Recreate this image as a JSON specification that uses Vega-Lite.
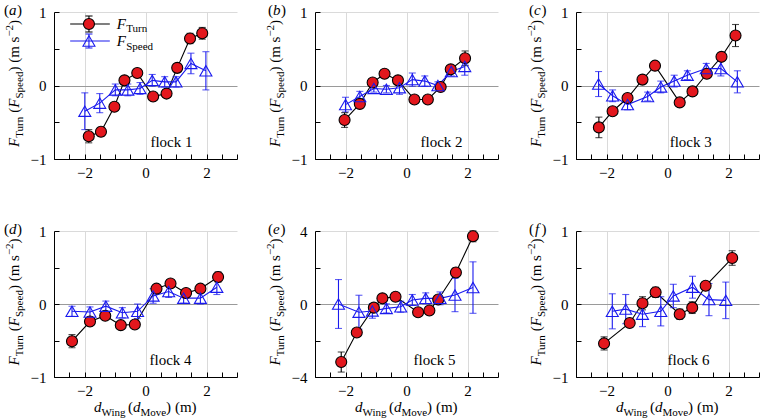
{
"$schema": "https://vega.github.io/schema/vega-lite/v6.json",
"padding": {"left": 3, "top": 3, "right": 0, "bottom": 0},
"background": "white",
"config": {
  "view": {"stroke": null},
  "legend": {"disable": true},
  "text": {"font": "Liberation Serif", "fontSize": 15, "align": "left", "baseline": "alphabetic", "color": "black"},
  "axis": {"domainColor": "black", "tickColor": "black", "labelColor": "black", "labelFont": "Liberation Serif", "labelFontSize": 15, "tickSize": -5, "grid": true, "labelFlush": false, "labelOverlap": false},
  "axisX": {"labelPadding": 11},
  "axisY": {"labelPadding": 13}
},
"datasets": {
  "one": [{}],
  "pts": [
    {"f":1,"s":"Turn","x":-1.86,"y":-0.69,"e":0.09},{"f":1,"s":"Turn","x":-1.46,"y":-0.63,"e":0.06},{"f":1,"s":"Turn","x":-1.02,"y":-0.29,"e":0.04},{"f":1,"s":"Turn","x":-0.69,"y":0.07,"e":0.04},{"f":1,"s":"Turn","x":-0.27,"y":0.17,"e":0.03},{"f":1,"s":"Turn","x":0.25,"y":-0.15,"e":0.03},{"f":1,"s":"Turn","x":0.69,"y":-0.11,"e":0.03},{"f":1,"s":"Turn","x":1.04,"y":0.24,"e":0.04},{"f":1,"s":"Turn","x":1.46,"y":0.64,"e":0.07},{"f":1,"s":"Turn","x":1.86,"y":0.71,"e":0.08},
    {"f":1,"s":"Speed","x":-1.99,"y":-0.35,"e":0.25},{"f":1,"s":"Speed","x":-1.5,"y":-0.24,"e":0.13},{"f":1,"s":"Speed","x":-0.99,"y":-0.06,"e":0.08},{"f":1,"s":"Speed","x":-0.58,"y":-0.06,"e":0.08},{"f":1,"s":"Speed","x":-0.18,"y":-0.04,"e":0.08},{"f":1,"s":"Speed","x":0.22,"y":0.07,"e":0.08},{"f":1,"s":"Speed","x":0.63,"y":0.05,"e":0.07},{"f":1,"s":"Speed","x":1.0,"y":0.05,"e":0.07},{"f":1,"s":"Speed","x":1.49,"y":0.3,"e":0.14},{"f":1,"s":"Speed","x":1.98,"y":0.2,"e":0.26},
    {"f":2,"s":"Turn","x":-2.03,"y":-0.47,"e":0.1},{"f":2,"s":"Turn","x":-1.53,"y":-0.25,"e":0.04},{"f":2,"s":"Turn","x":-1.11,"y":0.04,"e":0.03},{"f":2,"s":"Turn","x":-0.72,"y":0.16,"e":0.03},{"f":2,"s":"Turn","x":-0.28,"y":0.07,"e":0.03},{"f":2,"s":"Turn","x":0.26,"y":-0.19,"e":0.03},{"f":2,"s":"Turn","x":0.7,"y":-0.19,"e":0.03},{"f":2,"s":"Turn","x":1.12,"y":-0.02,"e":0.03},{"f":2,"s":"Turn","x":1.45,"y":0.22,"e":0.04},{"f":2,"s":"Turn","x":1.92,"y":0.37,"e":0.1},
    {"f":2,"s":"Speed","x":-2.0,"y":-0.26,"e":0.1},{"f":2,"s":"Speed","x":-1.53,"y":-0.15,"e":0.07},{"f":2,"s":"Speed","x":-1.07,"y":-0.04,"e":0.05},{"f":2,"s":"Speed","x":-0.66,"y":-0.05,"e":0.05},{"f":2,"s":"Speed","x":-0.23,"y":-0.03,"e":0.09},{"f":2,"s":"Speed","x":0.19,"y":0.08,"e":0.09},{"f":2,"s":"Speed","x":0.6,"y":0.06,"e":0.07},{"f":2,"s":"Speed","x":1.03,"y":0.0,"e":0.05},{"f":2,"s":"Speed","x":1.47,"y":0.19,"e":0.06},{"f":2,"s":"Speed","x":1.91,"y":0.26,"e":0.12},
    {"f":3,"s":"Turn","x":-2.25,"y":-0.57,"e":0.14},{"f":3,"s":"Turn","x":-1.8,"y":-0.35,"e":0.04},{"f":3,"s":"Turn","x":-1.31,"y":-0.17,"e":0.03},{"f":3,"s":"Turn","x":-0.82,"y":0.08,"e":0.03},{"f":3,"s":"Turn","x":-0.41,"y":0.27,"e":0.03},{"f":3,"s":"Turn","x":0.4,"y":-0.23,"e":0.03},{"f":3,"s":"Turn","x":0.82,"y":-0.08,"e":0.03},{"f":3,"s":"Turn","x":1.29,"y":0.16,"e":0.03},{"f":3,"s":"Turn","x":1.77,"y":0.39,"e":0.05},{"f":3,"s":"Turn","x":2.23,"y":0.68,"e":0.15},
    {"f":3,"s":"Speed","x":-2.26,"y":0.02,"e":0.17},{"f":3,"s":"Speed","x":-1.8,"y":-0.14,"e":0.08},{"f":3,"s":"Speed","x":-1.31,"y":-0.26,"e":0.07},{"f":3,"s":"Speed","x":-0.65,"y":-0.15,"e":0.06},{"f":3,"s":"Speed","x":-0.22,"y":-0.02,"e":0.08},{"f":3,"s":"Speed","x":0.22,"y":0.06,"e":0.08},{"f":3,"s":"Speed","x":0.65,"y":0.14,"e":0.06},{"f":3,"s":"Speed","x":1.27,"y":0.23,"e":0.07},{"f":3,"s":"Speed","x":1.75,"y":0.23,"e":0.1},{"f":3,"s":"Speed","x":2.29,"y":0.05,"e":0.15},
    {"f":4,"s":"Turn","x":-2.41,"y":-0.51,"e":0.09},{"f":4,"s":"Turn","x":-1.82,"y":-0.24,"e":0.05},{"f":4,"s":"Turn","x":-1.32,"y":-0.16,"e":0.03},{"f":4,"s":"Turn","x":-0.81,"y":-0.29,"e":0.03},{"f":4,"s":"Turn","x":-0.35,"y":-0.28,"e":0.03},{"f":4,"s":"Turn","x":0.36,"y":0.21,"e":0.03},{"f":4,"s":"Turn","x":0.82,"y":0.28,"e":0.03},{"f":4,"s":"Turn","x":1.33,"y":0.15,"e":0.03},{"f":4,"s":"Turn","x":1.8,"y":0.21,"e":0.04},{"f":4,"s":"Turn","x":2.38,"y":0.37,"e":0.07},
    {"f":4,"s":"Speed","x":-2.41,"y":-0.1,"e":0.07},{"f":4,"s":"Speed","x":-1.82,"y":-0.11,"e":0.07},{"f":4,"s":"Speed","x":-1.3,"y":-0.03,"e":0.07},{"f":4,"s":"Speed","x":-0.76,"y":-0.12,"e":0.07},{"f":4,"s":"Speed","x":-0.26,"y":-0.1,"e":0.1},{"f":4,"s":"Speed","x":0.25,"y":0.11,"e":0.1},{"f":4,"s":"Speed","x":0.76,"y":0.17,"e":0.08},{"f":4,"s":"Speed","x":1.25,"y":0.08,"e":0.07},{"f":4,"s":"Speed","x":1.8,"y":0.08,"e":0.08},{"f":4,"s":"Speed","x":2.34,"y":0.23,"e":0.1},
    {"f":5,"s":"Turn","x":-2.14,"y":-3.18,"e":0.55},{"f":5,"s":"Turn","x":-1.63,"y":-1.56,"e":0.2},{"f":5,"s":"Turn","x":-1.07,"y":-0.2,"e":0.1},{"f":5,"s":"Turn","x":-0.79,"y":0.31,"e":0.1},{"f":5,"s":"Turn","x":-0.36,"y":0.4,"e":0.1},{"f":5,"s":"Turn","x":0.38,"y":-0.45,"e":0.1},{"f":5,"s":"Turn","x":0.75,"y":-0.36,"e":0.1},{"f":5,"s":"Turn","x":1.04,"y":0.25,"e":0.1},{"f":5,"s":"Turn","x":1.62,"y":1.73,"e":0.25},{"f":5,"s":"Turn","x":2.18,"y":3.71,"e":0.3},
    {"f":5,"s":"Speed","x":-2.23,"y":0.0,"e":1.34},{"f":5,"s":"Speed","x":-1.56,"y":-0.45,"e":0.93},{"f":5,"s":"Speed","x":-1.12,"y":-0.38,"e":0.4},{"f":5,"s":"Speed","x":-0.66,"y":-0.24,"e":0.25},{"f":5,"s":"Speed","x":-0.19,"y":-0.15,"e":0.3},{"f":5,"s":"Speed","x":0.19,"y":0.22,"e":0.3},{"f":5,"s":"Speed","x":0.63,"y":0.31,"e":0.3},{"f":5,"s":"Speed","x":1.1,"y":0.31,"e":0.35},{"f":5,"s":"Speed","x":1.59,"y":0.49,"e":0.91},{"f":5,"s":"Speed","x":2.18,"y":0.9,"e":1.41},
    {"f":6,"s":"Turn","x":-2.08,"y":-0.54,"e":0.09},{"f":6,"s":"Turn","x":-1.24,"y":-0.26,"e":0.05},{"f":6,"s":"Turn","x":-0.82,"y":0.01,"e":0.09},{"f":6,"s":"Turn","x":-0.39,"y":0.16,"e":0.07},{"f":6,"s":"Turn","x":0.4,"y":-0.14,"e":0.07},{"f":6,"s":"Turn","x":0.81,"y":-0.05,"e":0.08},{"f":6,"s":"Turn","x":1.25,"y":0.25,"e":0.05},{"f":6,"s":"Turn","x":2.12,"y":0.63,"e":0.1},
    {"f":6,"s":"Speed","x":-1.81,"y":-0.1,"e":0.24},{"f":6,"s":"Speed","x":-1.37,"y":-0.07,"e":0.2},{"f":6,"s":"Speed","x":-0.82,"y":-0.14,"e":0.17},{"f":6,"s":"Speed","x":-0.22,"y":-0.1,"e":0.2},{"f":6,"s":"Speed","x":0.19,"y":0.11,"e":0.16},{"f":6,"s":"Speed","x":0.82,"y":0.23,"e":0.15},{"f":6,"s":"Speed","x":1.36,"y":0.06,"e":0.22},{"f":6,"s":"Speed","x":1.91,"y":0.05,"e":0.25}
  ]
},
"columns": 3,
"spacing": {"row": 72, "column": 78},
"bounds": "flush",
"concat": [
{"width": 183, "height": 147, "data": {"name": "one"}, "layer": [
  {"data": {"name": "pts"}, "transform": [{"filter": "datum.f == 1"}], "mark": {"type": "line", "strokeWidth": 1.1},
   "encoding": {"x": {"field": "x", "type": "quantitative", "scale": {"domain": [-3, 3], "nice": false}, "axis": {"title": null, "tickCount": 40, "labelOverlap": false, "values": [-3,-2.5,-2,-1.5,-1,-0.5,0,0.5,1,1.5,2,2.5,3], "labelExpr": "abs(datum.value) < 0.01 ? '0' : abs(datum.value - 2) < 0.01 ? '2' : abs(datum.value + 2) < 0.01 ? '−2' : ''", "gridColor": "#dadada", "gridOpacity": {"condition": {"test": "abs(datum.value) < 0.01 || abs(abs(datum.value) - 2) < 0.01", "value": 1}, "value": 0}}},
                "y": {"field": "y", "type": "quantitative", "scale": {"domain": [-1, 1], "nice": false}, "axis": {"title": null, "tickCount": 40, "labelOverlap": false, "values": [-1,-0.5,0,0.5,1], "labelExpr": "abs(datum.value) < 0.01 ? '0' : abs(datum.value - 1) < 0.01 ? '1' : abs(datum.value + 1) < 0.01 ? '−1' : ''", "gridColor": {"condition": {"test": "abs(datum.value) < 0.01", "value": "#9a9a9a"}, "value": "#dadada"}, "gridOpacity": {"condition": {"test": "abs(datum.value) < 0.01 || abs(datum.value - 1) < 0.01", "value": 1}, "value": 0}}},
                "color": {"field": "s", "type": "nominal", "scale": {"domain": ["Turn", "Speed"], "range": ["#000000", "#1a1aee"]}, "legend": null}}},
  {"data": {"name": "pts"}, "transform": [{"filter": "datum.f == 1"}], "mark": {"type": "errorbar", "ticks": {"size": 7}, "thickness": 1.1},
   "encoding": {"x": {"field": "x", "type": "quantitative"}, "y": {"field": "y", "type": "quantitative"}, "yError": {"field": "e"}, "color": {"field": "s", "type": "nominal", "legend": null}}},
  {"data": {"name": "pts"}, "transform": [{"filter": "datum.f == 1"}], "mark": {"type": "point", "opacity": 1, "strokeWidth": 1.1},
   "encoding": {"x": {"field": "x", "type": "quantitative"}, "y": {"field": "y", "type": "quantitative"},
                "shape": {"field": "s", "type": "nominal", "scale": {"domain": ["Turn", "Speed"], "range": ["circle", "triangle-up"]}, "legend": null},
                "fill": {"field": "s", "type": "nominal", "scale": {"domain": ["Turn", "Speed"], "range": ["#e3171d", "transparent"]}, "legend": null},
                "stroke": {"field": "s", "type": "nominal", "scale": {"domain": ["Turn", "Speed"], "range": ["#000000", "#1a1aee"]}, "legend": null},
                "size": {"field": "s", "type": "nominal", "scale": {"domain": ["Turn", "Speed"], "range": [121, 144]}, "legend": null}}},
  {"mark": {"type": "text", "text": "F", "fontStyle": "italic", "angle": 270, "dx": -61.5, "dy": -35}, "encoding": {"x": {"datum": -3}, "y": {"datum": 0}}},
  {"mark": {"type": "text", "text": "Turn", "fontSize": 11, "angle": 270, "dx": -52.3, "dy": -31.5}, "encoding": {"x": {"datum": -3}, "y": {"datum": 0}}},
  {"mark": {"type": "text", "text": "(", "angle": 270, "dx": -27.2, "dy": -35}, "encoding": {"x": {"datum": -3}, "y": {"datum": 0}}},
  {"mark": {"type": "text", "text": "F", "fontStyle": "italic", "angle": 270, "dx": -22.2, "dy": -35}, "encoding": {"x": {"datum": -3}, "y": {"datum": 0}}},
  {"mark": {"type": "text", "text": "Speed", "fontSize": 11, "angle": 270, "dx": -13.0, "dy": -31.5}, "encoding": {"x": {"datum": -3}, "y": {"datum": 0}}},
  {"mark": {"type": "text", "text": ") (m s", "angle": 270, "dx": 13.9, "dy": -35}, "encoding": {"x": {"datum": -3}, "y": {"datum": 0}}},
  {"mark": {"type": "text", "text": "−2", "fontSize": 11, "angle": 270, "dx": 48.9, "dy": -41}, "encoding": {"x": {"datum": -3}, "y": {"datum": 0}}},
  {"mark": {"type": "text", "text": ")", "angle": 270, "dx": 60.6, "dy": -35}, "encoding": {"x": {"datum": -3}, "y": {"datum": 0}}},
  {"mark": {"type": "text", "text": "(", "dx": -50, "dy": 3}, "encoding": {"x": {"datum": -3}, "y": {"datum": 1}}},
  {"mark": {"type": "text", "text": "a", "fontStyle": "italic", "dx": -45, "dy": 3}, "encoding": {"x": {"datum": -3}, "y": {"datum": 1}}},
  {"mark": {"type": "text", "text": ")", "dx": -37, "dy": 3}, "encoding": {"x": {"datum": -3}, "y": {"datum": 1}}},
  {"mark": {"type": "text", "text": "flock 1"}, "encoding": {"x": {"datum": 0.16}, "y": {"datum": -0.84}}},
  {"mark": {"type": "rule", "color": "black", "strokeWidth": 1.1}, "encoding": {"x": {"datum": -2.47}, "x2": {"datum": -1.17}, "y": {"datum": 0.837}}},
  {"mark": {"type": "rule", "color": "#1a1aee", "strokeWidth": 1.1}, "encoding": {"x": {"datum": -2.47}, "x2": {"datum": -1.17}, "y": {"datum": 0.605}}},
  {"mark": {"type": "point", "shape": "M-0.45,-1H0.45M0,-1V1M-0.45,1H0.45", "size": 256, "stroke": "black", "strokeWidth": 1.1, "opacity": 1}, "encoding": {"x": {"datum": -1.854}, "y": {"datum": 0.837}}},
  {"mark": {"type": "point", "shape": "M-0.5,-1H0.5M0,-1V1M-0.5,1H0.5", "size": 196, "stroke": "#1a1aee", "strokeWidth": 1.1, "opacity": 1}, "encoding": {"x": {"datum": -1.854}, "y": {"datum": 0.605}}},
  {"mark": {"type": "point", "shape": "circle", "size": 121, "fill": "#e3171d", "stroke": "black", "strokeWidth": 1.1, "opacity": 1, "filled": true}, "encoding": {"x": {"datum": -1.854}, "y": {"datum": 0.837}}},
  {"mark": {"type": "point", "shape": "triangle-up", "size": 144, "stroke": "#1a1aee", "strokeWidth": 1.1, "opacity": 1}, "encoding": {"x": {"datum": -1.854}, "y": {"datum": 0.605}}},
  {"mark": {"type": "text", "text": "F", "fontStyle": "italic", "dy": 5}, "encoding": {"x": {"datum": -0.943}, "y": {"datum": 0.837}}},
  {"mark": {"type": "text", "text": "Turn", "fontSize": 11, "dx": 9.5, "dy": 8.5}, "encoding": {"x": {"datum": -0.943}, "y": {"datum": 0.837}}},
  {"mark": {"type": "text", "text": "F", "fontStyle": "italic", "dy": 5}, "encoding": {"x": {"datum": -0.943}, "y": {"datum": 0.605}}},
  {"mark": {"type": "text", "text": "Speed", "fontSize": 11, "dx": 9.5, "dy": 8.5}, "encoding": {"x": {"datum": -0.943}, "y": {"datum": 0.605}}}
]},
{"width": 183, "height": 147, "data": {"name": "one"}, "layer": [
  {"data": {"name": "pts"}, "transform": [{"filter": "datum.f == 2"}], "mark": {"type": "line", "strokeWidth": 1.1},
   "encoding": {"x": {"field": "x", "type": "quantitative", "scale": {"domain": [-3, 3], "nice": false}, "axis": {"title": null, "tickCount": 40, "labelOverlap": false, "values": [-3,-2.5,-2,-1.5,-1,-0.5,0,0.5,1,1.5,2,2.5,3], "labelExpr": "abs(datum.value) < 0.01 ? '0' : abs(datum.value - 2) < 0.01 ? '2' : abs(datum.value + 2) < 0.01 ? '−2' : ''", "gridColor": "#dadada", "gridOpacity": {"condition": {"test": "abs(datum.value) < 0.01 || abs(abs(datum.value) - 2) < 0.01", "value": 1}, "value": 0}}},
                "y": {"field": "y", "type": "quantitative", "scale": {"domain": [-1, 1], "nice": false}, "axis": {"title": null, "tickCount": 40, "labelOverlap": false, "values": [-1,-0.5,0,0.5,1], "labelExpr": "abs(datum.value) < 0.01 ? '0' : abs(datum.value - 1) < 0.01 ? '1' : abs(datum.value + 1) < 0.01 ? '−1' : ''", "gridColor": {"condition": {"test": "abs(datum.value) < 0.01", "value": "#9a9a9a"}, "value": "#dadada"}, "gridOpacity": {"condition": {"test": "abs(datum.value) < 0.01 || abs(datum.value - 1) < 0.01", "value": 1}, "value": 0}}},
                "color": {"field": "s", "type": "nominal", "scale": {"domain": ["Turn", "Speed"], "range": ["#000000", "#1a1aee"]}, "legend": null}}},
  {"data": {"name": "pts"}, "transform": [{"filter": "datum.f == 2"}], "mark": {"type": "errorbar", "ticks": {"size": 7}, "thickness": 1.1},
   "encoding": {"x": {"field": "x", "type": "quantitative"}, "y": {"field": "y", "type": "quantitative"}, "yError": {"field": "e"}, "color": {"field": "s", "type": "nominal", "legend": null}}},
  {"data": {"name": "pts"}, "transform": [{"filter": "datum.f == 2"}], "mark": {"type": "point", "opacity": 1, "strokeWidth": 1.1},
   "encoding": {"x": {"field": "x", "type": "quantitative"}, "y": {"field": "y", "type": "quantitative"},
                "shape": {"field": "s", "type": "nominal", "scale": {"domain": ["Turn", "Speed"], "range": ["circle", "triangle-up"]}, "legend": null},
                "fill": {"field": "s", "type": "nominal", "scale": {"domain": ["Turn", "Speed"], "range": ["#e3171d", "transparent"]}, "legend": null},
                "stroke": {"field": "s", "type": "nominal", "scale": {"domain": ["Turn", "Speed"], "range": ["#000000", "#1a1aee"]}, "legend": null},
                "size": {"field": "s", "type": "nominal", "scale": {"domain": ["Turn", "Speed"], "range": [121, 144]}, "legend": null}}},
  {"mark": {"type": "text", "text": "F", "fontStyle": "italic", "angle": 270, "dx": -61.5, "dy": -35}, "encoding": {"x": {"datum": -3}, "y": {"datum": 0}}},
  {"mark": {"type": "text", "text": "Turn", "fontSize": 11, "angle": 270, "dx": -52.3, "dy": -31.5}, "encoding": {"x": {"datum": -3}, "y": {"datum": 0}}},
  {"mark": {"type": "text", "text": "(", "angle": 270, "dx": -27.2, "dy": -35}, "encoding": {"x": {"datum": -3}, "y": {"datum": 0}}},
  {"mark": {"type": "text", "text": "F", "fontStyle": "italic", "angle": 270, "dx": -22.2, "dy": -35}, "encoding": {"x": {"datum": -3}, "y": {"datum": 0}}},
  {"mark": {"type": "text", "text": "Speed", "fontSize": 11, "angle": 270, "dx": -13.0, "dy": -31.5}, "encoding": {"x": {"datum": -3}, "y": {"datum": 0}}},
  {"mark": {"type": "text", "text": ") (m s", "angle": 270, "dx": 13.9, "dy": -35}, "encoding": {"x": {"datum": -3}, "y": {"datum": 0}}},
  {"mark": {"type": "text", "text": "−2", "fontSize": 11, "angle": 270, "dx": 48.9, "dy": -41}, "encoding": {"x": {"datum": -3}, "y": {"datum": 0}}},
  {"mark": {"type": "text", "text": ")", "angle": 270, "dx": 60.6, "dy": -35}, "encoding": {"x": {"datum": -3}, "y": {"datum": 0}}},
  {"mark": {"type": "text", "text": "(", "dx": -47, "dy": 3}, "encoding": {"x": {"datum": -3}, "y": {"datum": 1}}},
  {"mark": {"type": "text", "text": "b", "fontStyle": "italic", "dx": -42, "dy": 3}, "encoding": {"x": {"datum": -3}, "y": {"datum": 1}}},
  {"mark": {"type": "text", "text": ")", "dx": -34, "dy": 3}, "encoding": {"x": {"datum": -3}, "y": {"datum": 1}}},
  {"mark": {"type": "text", "text": "flock 2"}, "encoding": {"x": {"datum": 0.46}, "y": {"datum": -0.84}}}
]},
{"width": 183, "height": 147, "data": {"name": "one"}, "layer": [
  {"data": {"name": "pts"}, "transform": [{"filter": "datum.f == 3"}], "mark": {"type": "line", "strokeWidth": 1.1},
   "encoding": {"x": {"field": "x", "type": "quantitative", "scale": {"domain": [-3, 3], "nice": false}, "axis": {"title": null, "tickCount": 40, "labelOverlap": false, "values": [-3,-2.5,-2,-1.5,-1,-0.5,0,0.5,1,1.5,2,2.5,3], "labelExpr": "abs(datum.value) < 0.01 ? '0' : abs(datum.value - 2) < 0.01 ? '2' : abs(datum.value + 2) < 0.01 ? '−2' : ''", "gridColor": "#dadada", "gridOpacity": {"condition": {"test": "abs(datum.value) < 0.01 || abs(abs(datum.value) - 2) < 0.01", "value": 1}, "value": 0}}},
                "y": {"field": "y", "type": "quantitative", "scale": {"domain": [-1, 1], "nice": false}, "axis": {"title": null, "tickCount": 40, "labelOverlap": false, "values": [-1,-0.5,0,0.5,1], "labelExpr": "abs(datum.value) < 0.01 ? '0' : abs(datum.value - 1) < 0.01 ? '1' : abs(datum.value + 1) < 0.01 ? '−1' : ''", "gridColor": {"condition": {"test": "abs(datum.value) < 0.01", "value": "#9a9a9a"}, "value": "#dadada"}, "gridOpacity": {"condition": {"test": "abs(datum.value) < 0.01 || abs(datum.value - 1) < 0.01", "value": 1}, "value": 0}}},
                "color": {"field": "s", "type": "nominal", "scale": {"domain": ["Turn", "Speed"], "range": ["#000000", "#1a1aee"]}, "legend": null}}},
  {"data": {"name": "pts"}, "transform": [{"filter": "datum.f == 3"}], "mark": {"type": "errorbar", "ticks": {"size": 7}, "thickness": 1.1},
   "encoding": {"x": {"field": "x", "type": "quantitative"}, "y": {"field": "y", "type": "quantitative"}, "yError": {"field": "e"}, "color": {"field": "s", "type": "nominal", "legend": null}}},
  {"data": {"name": "pts"}, "transform": [{"filter": "datum.f == 3"}], "mark": {"type": "point", "opacity": 1, "strokeWidth": 1.1},
   "encoding": {"x": {"field": "x", "type": "quantitative"}, "y": {"field": "y", "type": "quantitative"},
                "shape": {"field": "s", "type": "nominal", "scale": {"domain": ["Turn", "Speed"], "range": ["circle", "triangle-up"]}, "legend": null},
                "fill": {"field": "s", "type": "nominal", "scale": {"domain": ["Turn", "Speed"], "range": ["#e3171d", "transparent"]}, "legend": null},
                "stroke": {"field": "s", "type": "nominal", "scale": {"domain": ["Turn", "Speed"], "range": ["#000000", "#1a1aee"]}, "legend": null},
                "size": {"field": "s", "type": "nominal", "scale": {"domain": ["Turn", "Speed"], "range": [121, 144]}, "legend": null}}},
  {"mark": {"type": "text", "text": "F", "fontStyle": "italic", "angle": 270, "dx": -61.5, "dy": -35}, "encoding": {"x": {"datum": -3}, "y": {"datum": 0}}},
  {"mark": {"type": "text", "text": "Turn", "fontSize": 11, "angle": 270, "dx": -52.3, "dy": -31.5}, "encoding": {"x": {"datum": -3}, "y": {"datum": 0}}},
  {"mark": {"type": "text", "text": "(", "angle": 270, "dx": -27.2, "dy": -35}, "encoding": {"x": {"datum": -3}, "y": {"datum": 0}}},
  {"mark": {"type": "text", "text": "F", "fontStyle": "italic", "angle": 270, "dx": -22.2, "dy": -35}, "encoding": {"x": {"datum": -3}, "y": {"datum": 0}}},
  {"mark": {"type": "text", "text": "Speed", "fontSize": 11, "angle": 270, "dx": -13.0, "dy": -31.5}, "encoding": {"x": {"datum": -3}, "y": {"datum": 0}}},
  {"mark": {"type": "text", "text": ") (m s", "angle": 270, "dx": 13.9, "dy": -35}, "encoding": {"x": {"datum": -3}, "y": {"datum": 0}}},
  {"mark": {"type": "text", "text": "−2", "fontSize": 11, "angle": 270, "dx": 48.9, "dy": -41}, "encoding": {"x": {"datum": -3}, "y": {"datum": 0}}},
  {"mark": {"type": "text", "text": ")", "angle": 270, "dx": 60.6, "dy": -35}, "encoding": {"x": {"datum": -3}, "y": {"datum": 0}}},
  {"mark": {"type": "text", "text": "(", "dx": -47, "dy": 3}, "encoding": {"x": {"datum": -3}, "y": {"datum": 1}}},
  {"mark": {"type": "text", "text": "c", "fontStyle": "italic", "dx": -42, "dy": 3}, "encoding": {"x": {"datum": -3}, "y": {"datum": 1}}},
  {"mark": {"type": "text", "text": ")", "dx": -34.5, "dy": 3}, "encoding": {"x": {"datum": -3}, "y": {"datum": 1}}},
  {"mark": {"type": "text", "text": "flock 3"}, "encoding": {"x": {"datum": 0.07}, "y": {"datum": -0.84}}}
]},
{"width": 183, "height": 146, "data": {"name": "one"}, "layer": [
  {"data": {"name": "pts"}, "transform": [{"filter": "datum.f == 4"}], "mark": {"type": "line", "strokeWidth": 1.1},
   "encoding": {"x": {"field": "x", "type": "quantitative", "scale": {"domain": [-3, 3], "nice": false}, "axis": {"title": null, "tickCount": 40, "labelOverlap": false, "values": [-3,-2.5,-2,-1.5,-1,-0.5,0,0.5,1,1.5,2,2.5,3], "labelExpr": "abs(datum.value) < 0.01 ? '0' : abs(datum.value - 2) < 0.01 ? '2' : abs(datum.value + 2) < 0.01 ? '−2' : ''", "gridColor": "#dadada", "gridOpacity": {"condition": {"test": "abs(datum.value) < 0.01 || abs(abs(datum.value) - 2) < 0.01", "value": 1}, "value": 0}}},
                "y": {"field": "y", "type": "quantitative", "scale": {"domain": [-1, 1], "nice": false}, "axis": {"title": null, "tickCount": 40, "labelOverlap": false, "values": [-1,-0.5,0,0.5,1], "labelExpr": "abs(datum.value) < 0.01 ? '0' : abs(datum.value - 1) < 0.01 ? '1' : abs(datum.value + 1) < 0.01 ? '−1' : ''", "gridColor": {"condition": {"test": "abs(datum.value) < 0.01", "value": "#9a9a9a"}, "value": "#dadada"}, "gridOpacity": {"condition": {"test": "abs(datum.value) < 0.01 || abs(datum.value - 1) < 0.01", "value": 1}, "value": 0}}},
                "color": {"field": "s", "type": "nominal", "scale": {"domain": ["Turn", "Speed"], "range": ["#000000", "#1a1aee"]}, "legend": null}}},
  {"data": {"name": "pts"}, "transform": [{"filter": "datum.f == 4"}], "mark": {"type": "errorbar", "ticks": {"size": 7}, "thickness": 1.1},
   "encoding": {"x": {"field": "x", "type": "quantitative"}, "y": {"field": "y", "type": "quantitative"}, "yError": {"field": "e"}, "color": {"field": "s", "type": "nominal", "legend": null}}},
  {"data": {"name": "pts"}, "transform": [{"filter": "datum.f == 4"}], "mark": {"type": "point", "opacity": 1, "strokeWidth": 1.1},
   "encoding": {"x": {"field": "x", "type": "quantitative"}, "y": {"field": "y", "type": "quantitative"},
                "shape": {"field": "s", "type": "nominal", "scale": {"domain": ["Turn", "Speed"], "range": ["circle", "triangle-up"]}, "legend": null},
                "fill": {"field": "s", "type": "nominal", "scale": {"domain": ["Turn", "Speed"], "range": ["#e3171d", "transparent"]}, "legend": null},
                "stroke": {"field": "s", "type": "nominal", "scale": {"domain": ["Turn", "Speed"], "range": ["#000000", "#1a1aee"]}, "legend": null},
                "size": {"field": "s", "type": "nominal", "scale": {"domain": ["Turn", "Speed"], "range": [121, 144]}, "legend": null}}},
  {"mark": {"type": "text", "text": "F", "fontStyle": "italic", "angle": 270, "dx": -61.5, "dy": -35}, "encoding": {"x": {"datum": -3}, "y": {"datum": 0}}},
  {"mark": {"type": "text", "text": "Turn", "fontSize": 11, "angle": 270, "dx": -52.3, "dy": -31.5}, "encoding": {"x": {"datum": -3}, "y": {"datum": 0}}},
  {"mark": {"type": "text", "text": "(", "angle": 270, "dx": -27.2, "dy": -35}, "encoding": {"x": {"datum": -3}, "y": {"datum": 0}}},
  {"mark": {"type": "text", "text": "F", "fontStyle": "italic", "angle": 270, "dx": -22.2, "dy": -35}, "encoding": {"x": {"datum": -3}, "y": {"datum": 0}}},
  {"mark": {"type": "text", "text": "Speed", "fontSize": 11, "angle": 270, "dx": -13.0, "dy": -31.5}, "encoding": {"x": {"datum": -3}, "y": {"datum": 0}}},
  {"mark": {"type": "text", "text": ") (m s", "angle": 270, "dx": 13.9, "dy": -35}, "encoding": {"x": {"datum": -3}, "y": {"datum": 0}}},
  {"mark": {"type": "text", "text": "−2", "fontSize": 11, "angle": 270, "dx": 48.9, "dy": -41}, "encoding": {"x": {"datum": -3}, "y": {"datum": 0}}},
  {"mark": {"type": "text", "text": ")", "angle": 270, "dx": 60.6, "dy": -35}, "encoding": {"x": {"datum": -3}, "y": {"datum": 0}}},
  {"mark": {"type": "text", "text": "(", "dx": -50, "dy": 3}, "encoding": {"x": {"datum": -3}, "y": {"datum": 1}}},
  {"mark": {"type": "text", "text": "d", "fontStyle": "italic", "dx": -45, "dy": 3}, "encoding": {"x": {"datum": -3}, "y": {"datum": 1}}},
  {"mark": {"type": "text", "text": ")", "dx": -37, "dy": 3}, "encoding": {"x": {"datum": -3}, "y": {"datum": 1}}},
  {"mark": {"type": "text", "text": "flock 4"}, "encoding": {"x": {"datum": 0.13}, "y": {"datum": -0.84}}},
  {"mark": {"type": "text", "text": "d", "fontStyle": "italic", "dx": -51.5, "dy": 35}, "encoding": {"x": {"datum": 0}, "y": {"datum": -1}}},
  {"mark": {"type": "text", "text": "Wing", "fontSize": 11, "dx": -44, "dy": 38.5}, "encoding": {"x": {"datum": 0}, "y": {"datum": -1}}},
  {"mark": {"type": "text", "text": "(", "dx": -17.6, "dy": 35}, "encoding": {"x": {"datum": 0}, "y": {"datum": -1}}},
  {"mark": {"type": "text", "text": "d", "fontStyle": "italic", "dx": -12.6, "dy": 35}, "encoding": {"x": {"datum": 0}, "y": {"datum": -1}}},
  {"mark": {"type": "text", "text": "Move", "fontSize": 11, "dx": -5.1, "dy": 38.5}, "encoding": {"x": {"datum": 0}, "y": {"datum": -1}}},
  {"mark": {"type": "text", "text": ")", "dx": 20.6, "dy": 35}, "encoding": {"x": {"datum": 0}, "y": {"datum": -1}}},
  {"mark": {"type": "text", "text": "(m)", "dx": 29.4, "dy": 35}, "encoding": {"x": {"datum": 0}, "y": {"datum": -1}}}
]},
{"width": 183, "height": 146, "data": {"name": "one"}, "layer": [
  {"data": {"name": "pts"}, "transform": [{"filter": "datum.f == 5"}], "mark": {"type": "line", "strokeWidth": 1.1},
   "encoding": {"x": {"field": "x", "type": "quantitative", "scale": {"domain": [-3, 3], "nice": false}, "axis": {"title": null, "tickCount": 40, "labelOverlap": false, "values": [-3,-2.5,-2,-1.5,-1,-0.5,0,0.5,1,1.5,2,2.5,3], "labelExpr": "abs(datum.value) < 0.01 ? '0' : abs(datum.value - 2) < 0.01 ? '2' : abs(datum.value + 2) < 0.01 ? '−2' : ''", "gridColor": "#dadada", "gridOpacity": {"condition": {"test": "abs(datum.value) < 0.01 || abs(abs(datum.value) - 2) < 0.01", "value": 1}, "value": 0}}},
                "y": {"field": "y", "type": "quantitative", "scale": {"domain": [-4, 4], "nice": false}, "axis": {"title": null, "tickCount": 40, "labelOverlap": false, "values": [-4,-2,0,2,4], "labelExpr": "abs(datum.value) < 0.01 ? '0' : abs(datum.value - 4) < 0.01 ? '4' : abs(datum.value + 4) < 0.01 ? '−4' : ''", "gridColor": {"condition": {"test": "abs(datum.value) < 0.01", "value": "#9a9a9a"}, "value": "#dadada"}, "gridOpacity": {"condition": {"test": "abs(datum.value) < 0.01 || abs(datum.value - 4) < 0.01", "value": 1}, "value": 0}}},
                "color": {"field": "s", "type": "nominal", "scale": {"domain": ["Turn", "Speed"], "range": ["#000000", "#1a1aee"]}, "legend": null}}},
  {"data": {"name": "pts"}, "transform": [{"filter": "datum.f == 5"}], "mark": {"type": "errorbar", "ticks": {"size": 7}, "thickness": 1.1},
   "encoding": {"x": {"field": "x", "type": "quantitative"}, "y": {"field": "y", "type": "quantitative"}, "yError": {"field": "e"}, "color": {"field": "s", "type": "nominal", "legend": null}}},
  {"data": {"name": "pts"}, "transform": [{"filter": "datum.f == 5"}], "mark": {"type": "point", "opacity": 1, "strokeWidth": 1.1},
   "encoding": {"x": {"field": "x", "type": "quantitative"}, "y": {"field": "y", "type": "quantitative"},
                "shape": {"field": "s", "type": "nominal", "scale": {"domain": ["Turn", "Speed"], "range": ["circle", "triangle-up"]}, "legend": null},
                "fill": {"field": "s", "type": "nominal", "scale": {"domain": ["Turn", "Speed"], "range": ["#e3171d", "transparent"]}, "legend": null},
                "stroke": {"field": "s", "type": "nominal", "scale": {"domain": ["Turn", "Speed"], "range": ["#000000", "#1a1aee"]}, "legend": null},
                "size": {"field": "s", "type": "nominal", "scale": {"domain": ["Turn", "Speed"], "range": [121, 144]}, "legend": null}}},
  {"mark": {"type": "text", "text": "F", "fontStyle": "italic", "angle": 270, "dx": -61.5, "dy": -35}, "encoding": {"x": {"datum": -3}, "y": {"datum": 0}}},
  {"mark": {"type": "text", "text": "Turn", "fontSize": 11, "angle": 270, "dx": -52.3, "dy": -31.5}, "encoding": {"x": {"datum": -3}, "y": {"datum": 0}}},
  {"mark": {"type": "text", "text": "(", "angle": 270, "dx": -27.2, "dy": -35}, "encoding": {"x": {"datum": -3}, "y": {"datum": 0}}},
  {"mark": {"type": "text", "text": "F", "fontStyle": "italic", "angle": 270, "dx": -22.2, "dy": -35}, "encoding": {"x": {"datum": -3}, "y": {"datum": 0}}},
  {"mark": {"type": "text", "text": "Speed", "fontSize": 11, "angle": 270, "dx": -13.0, "dy": -31.5}, "encoding": {"x": {"datum": -3}, "y": {"datum": 0}}},
  {"mark": {"type": "text", "text": ") (m s", "angle": 270, "dx": 13.9, "dy": -35}, "encoding": {"x": {"datum": -3}, "y": {"datum": 0}}},
  {"mark": {"type": "text", "text": "−2", "fontSize": 11, "angle": 270, "dx": 48.9, "dy": -41}, "encoding": {"x": {"datum": -3}, "y": {"datum": 0}}},
  {"mark": {"type": "text", "text": ")", "angle": 270, "dx": 60.6, "dy": -35}, "encoding": {"x": {"datum": -3}, "y": {"datum": 0}}},
  {"mark": {"type": "text", "text": "(", "dx": -47, "dy": 3}, "encoding": {"x": {"datum": -3}, "y": {"datum": 4}}},
  {"mark": {"type": "text", "text": "e", "fontStyle": "italic", "dx": -42, "dy": 3}, "encoding": {"x": {"datum": -3}, "y": {"datum": 4}}},
  {"mark": {"type": "text", "text": ")", "dx": -34.5, "dy": 3}, "encoding": {"x": {"datum": -3}, "y": {"datum": 4}}},
  {"mark": {"type": "text", "text": "flock 5"}, "encoding": {"x": {"datum": 0.23}, "y": {"datum": -3.35}}},
  {"mark": {"type": "text", "text": "d", "fontStyle": "italic", "dx": -51.5, "dy": 35}, "encoding": {"x": {"datum": 0}, "y": {"datum": -4}}},
  {"mark": {"type": "text", "text": "Wing", "fontSize": 11, "dx": -44, "dy": 38.5}, "encoding": {"x": {"datum": 0}, "y": {"datum": -4}}},
  {"mark": {"type": "text", "text": "(", "dx": -17.6, "dy": 35}, "encoding": {"x": {"datum": 0}, "y": {"datum": -4}}},
  {"mark": {"type": "text", "text": "d", "fontStyle": "italic", "dx": -12.6, "dy": 35}, "encoding": {"x": {"datum": 0}, "y": {"datum": -4}}},
  {"mark": {"type": "text", "text": "Move", "fontSize": 11, "dx": -5.1, "dy": 38.5}, "encoding": {"x": {"datum": 0}, "y": {"datum": -4}}},
  {"mark": {"type": "text", "text": ")", "dx": 20.6, "dy": 35}, "encoding": {"x": {"datum": 0}, "y": {"datum": -4}}},
  {"mark": {"type": "text", "text": "(m)", "dx": 29.4, "dy": 35}, "encoding": {"x": {"datum": 0}, "y": {"datum": -4}}}
]},
{"width": 183, "height": 146, "data": {"name": "one"}, "layer": [
  {"data": {"name": "pts"}, "transform": [{"filter": "datum.f == 6"}], "mark": {"type": "line", "strokeWidth": 1.1},
   "encoding": {"x": {"field": "x", "type": "quantitative", "scale": {"domain": [-3, 3], "nice": false}, "axis": {"title": null, "tickCount": 40, "labelOverlap": false, "values": [-3,-2.5,-2,-1.5,-1,-0.5,0,0.5,1,1.5,2,2.5,3], "labelExpr": "abs(datum.value) < 0.01 ? '0' : abs(datum.value - 2) < 0.01 ? '2' : abs(datum.value + 2) < 0.01 ? '−2' : ''", "gridColor": "#dadada", "gridOpacity": {"condition": {"test": "abs(datum.value) < 0.01 || abs(abs(datum.value) - 2) < 0.01", "value": 1}, "value": 0}}},
                "y": {"field": "y", "type": "quantitative", "scale": {"domain": [-1, 1], "nice": false}, "axis": {"title": null, "tickCount": 40, "labelOverlap": false, "values": [-1,-0.5,0,0.5,1], "labelExpr": "abs(datum.value) < 0.01 ? '0' : abs(datum.value - 1) < 0.01 ? '1' : abs(datum.value + 1) < 0.01 ? '−1' : ''", "gridColor": {"condition": {"test": "abs(datum.value) < 0.01", "value": "#9a9a9a"}, "value": "#dadada"}, "gridOpacity": {"condition": {"test": "abs(datum.value) < 0.01 || abs(datum.value - 1) < 0.01", "value": 1}, "value": 0}}},
                "color": {"field": "s", "type": "nominal", "scale": {"domain": ["Turn", "Speed"], "range": ["#000000", "#1a1aee"]}, "legend": null}}},
  {"data": {"name": "pts"}, "transform": [{"filter": "datum.f == 6"}], "mark": {"type": "errorbar", "ticks": {"size": 7}, "thickness": 1.1},
   "encoding": {"x": {"field": "x", "type": "quantitative"}, "y": {"field": "y", "type": "quantitative"}, "yError": {"field": "e"}, "color": {"field": "s", "type": "nominal", "legend": null}}},
  {"data": {"name": "pts"}, "transform": [{"filter": "datum.f == 6"}], "mark": {"type": "point", "opacity": 1, "strokeWidth": 1.1},
   "encoding": {"x": {"field": "x", "type": "quantitative"}, "y": {"field": "y", "type": "quantitative"},
                "shape": {"field": "s", "type": "nominal", "scale": {"domain": ["Turn", "Speed"], "range": ["circle", "triangle-up"]}, "legend": null},
                "fill": {"field": "s", "type": "nominal", "scale": {"domain": ["Turn", "Speed"], "range": ["#e3171d", "transparent"]}, "legend": null},
                "stroke": {"field": "s", "type": "nominal", "scale": {"domain": ["Turn", "Speed"], "range": ["#000000", "#1a1aee"]}, "legend": null},
                "size": {"field": "s", "type": "nominal", "scale": {"domain": ["Turn", "Speed"], "range": [121, 144]}, "legend": null}}},
  {"mark": {"type": "text", "text": "F", "fontStyle": "italic", "angle": 270, "dx": -61.5, "dy": -35}, "encoding": {"x": {"datum": -3}, "y": {"datum": 0}}},
  {"mark": {"type": "text", "text": "Turn", "fontSize": 11, "angle": 270, "dx": -52.3, "dy": -31.5}, "encoding": {"x": {"datum": -3}, "y": {"datum": 0}}},
  {"mark": {"type": "text", "text": "(", "angle": 270, "dx": -27.2, "dy": -35}, "encoding": {"x": {"datum": -3}, "y": {"datum": 0}}},
  {"mark": {"type": "text", "text": "F", "fontStyle": "italic", "angle": 270, "dx": -22.2, "dy": -35}, "encoding": {"x": {"datum": -3}, "y": {"datum": 0}}},
  {"mark": {"type": "text", "text": "Speed", "fontSize": 11, "angle": 270, "dx": -13.0, "dy": -31.5}, "encoding": {"x": {"datum": -3}, "y": {"datum": 0}}},
  {"mark": {"type": "text", "text": ") (m s", "angle": 270, "dx": 13.9, "dy": -35}, "encoding": {"x": {"datum": -3}, "y": {"datum": 0}}},
  {"mark": {"type": "text", "text": "−2", "fontSize": 11, "angle": 270, "dx": 48.9, "dy": -41}, "encoding": {"x": {"datum": -3}, "y": {"datum": 0}}},
  {"mark": {"type": "text", "text": ")", "angle": 270, "dx": 60.6, "dy": -35}, "encoding": {"x": {"datum": -3}, "y": {"datum": 0}}},
  {"mark": {"type": "text", "text": "(", "dx": -47, "dy": 3}, "encoding": {"x": {"datum": -3}, "y": {"datum": 1}}},
  {"mark": {"type": "text", "text": "f", "fontStyle": "italic", "dx": -41, "dy": 3}, "encoding": {"x": {"datum": -3}, "y": {"datum": 1}}},
  {"mark": {"type": "text", "text": ")", "dx": -34.5, "dy": 3}, "encoding": {"x": {"datum": -3}, "y": {"datum": 1}}},
  {"mark": {"type": "text", "text": "flock 6"}, "encoding": {"x": {"datum": 0.0}, "y": {"datum": -0.84}}},
  {"mark": {"type": "text", "text": "d", "fontStyle": "italic", "dx": -51.5, "dy": 35}, "encoding": {"x": {"datum": 0}, "y": {"datum": -1}}},
  {"mark": {"type": "text", "text": "Wing", "fontSize": 11, "dx": -44, "dy": 38.5}, "encoding": {"x": {"datum": 0}, "y": {"datum": -1}}},
  {"mark": {"type": "text", "text": "(", "dx": -17.6, "dy": 35}, "encoding": {"x": {"datum": 0}, "y": {"datum": -1}}},
  {"mark": {"type": "text", "text": "d", "fontStyle": "italic", "dx": -12.6, "dy": 35}, "encoding": {"x": {"datum": 0}, "y": {"datum": -1}}},
  {"mark": {"type": "text", "text": "Move", "fontSize": 11, "dx": -5.1, "dy": 38.5}, "encoding": {"x": {"datum": 0}, "y": {"datum": -1}}},
  {"mark": {"type": "text", "text": ")", "dx": 20.6, "dy": 35}, "encoding": {"x": {"datum": 0}, "y": {"datum": -1}}},
  {"mark": {"type": "text", "text": "(m)", "dx": 29.4, "dy": 35}, "encoding": {"x": {"datum": 0}, "y": {"datum": -1}}}
]}
]
}
